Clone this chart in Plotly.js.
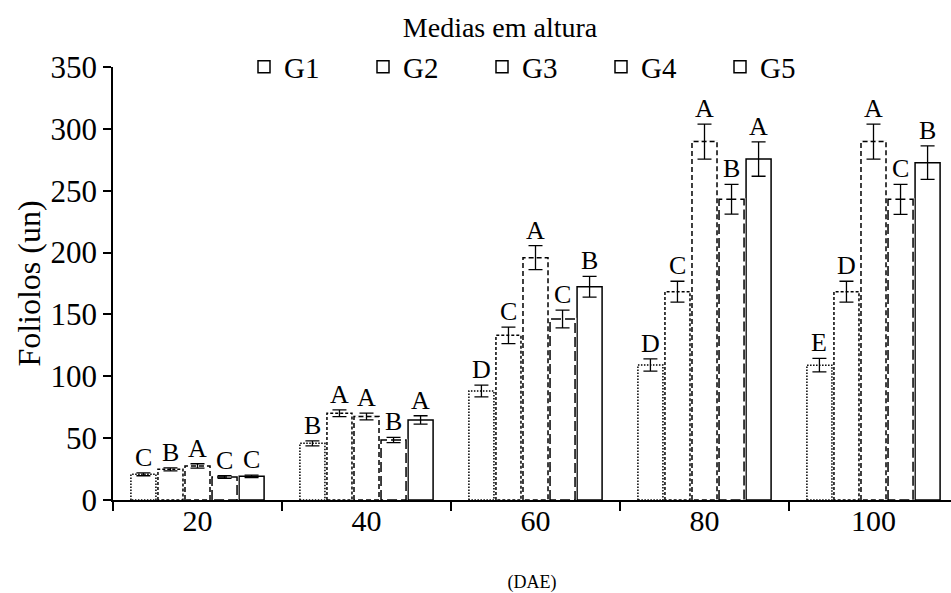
<!DOCTYPE html>
<html>
<head>
<meta charset="utf-8">
<script src="https://cdn.plot.ly/plotly-3.0.1.min.js"></script>
<style>html,body{margin:0;padding:0;background:#fff}#chart{width:951px;height:593px}</style>
</head>
<body>
<div id="chart"></div>
<script>
// ---- data ----
const groups = ['20', '40', '60', '80', '100'];
const seriesNames = ['G1', 'G2', 'G3', 'G4', 'G5'];
const G1 = [20.8, 45.8, 88.1, 109.1, 109.0];
const G2 = [24.8, 70.1, 133.1, 168.4, 168.4];
const G3 = [27.5, 67.5, 195.9, 289.7, 289.7];
const G4 = [18.6, 48.5, 146.3, 243.1, 243.0];
const G5 = [19.1, 64.7, 172.4, 275.6, 272.7];
const E1 = [1.2, 2.0, 4.7, 5.0, 5.4];
const E2 = [1.2, 2.7, 6.7, 8.4, 8.4];
const E3 = [1.8, 2.8, 9.7, 14.1, 14.1];
const E4 = [1.0, 2.2, 7.1, 12.1, 12.1];
const E5 = [1.0, 3.4, 8.4, 13.9, 13.6];
const L1 = ['C', 'B', 'D', 'D', 'E'];
const L2 = ['B', 'A', 'C', 'C', 'D'];
const L3 = ['A', 'A', 'A', 'A', 'A'];
const L4 = ['C', 'B', 'C', 'B', 'C'];
const L5 = ['C', 'A', 'B', 'A', 'B'];

// ---- styling ----
const values = [G1, G2, G3, G4, G5];
const errors = [E1, E2, E3, E4, E5];
const letters = [L1, L2, L3, L4, L5];
const dashes = ['1.5px,1.5px', '3px,2px', '5px,3px', '10px,4px', 'solid'];
const FONT = 'Liberation Serif, Times New Roman, serif';
const slot = 0.16, barW = 0.148, LW = 1.5;

const idx = groups.map((g, i) => i);
const traces = [];
const outlines = [], erasers = [], errs = [], annotations = [];

values.forEach((vals, s) => {
  const off = (s - 2) * slot;
  const xs = idx.map(i => i + off);
  traces.push({
    type: 'bar', name: seriesNames[s], x: xs, y: vals, width: barW,
    marker: {color: 'white', line: {color: 'black', width: LW}},
    hoverinfo: 'y+name', showlegend: true
  });
  if (s < 4) {
    const ox = [], oy = [];
    vals.forEach((v, i) => {
      const x0 = xs[i] - barW / 2, x1 = xs[i] + barW / 2;
      ox.push(x0, x0, x1, x1, x0, null);
      oy.push(0, v, v, 0, 0, null);
    });
    erasers.push({type: 'scatter', mode: 'lines', x: ox, y: oy, showlegend: false, hoverinfo: 'skip',
      line: {color: 'white', width: 2.6}});
    outlines.push({type: 'scatter', mode: 'lines', x: ox, y: oy, showlegend: false, hoverinfo: 'skip',
      line: {color: 'black', width: LW, dash: dashes[s]}});
  }
  errs.push({type: 'scatter', mode: 'markers', x: xs, y: vals, showlegend: false, hoverinfo: 'skip',
    marker: {size: 1, color: 'rgba(0,0,0,0)'},
    error_y: {type: 'data', array: errors[s], visible: true, color: 'black', thickness: 1.3, width: 7}});
  vals.forEach((v, i) => {
    annotations.push({x: xs[i], y: v + errors[s][i], xref: 'x', yref: 'y', text: letters[s][i],
      showarrow: false, xanchor: 'center', yanchor: 'bottom', yshift: -1,
      font: {family: FONT, size: 26, color: 'black'}});
  });
});

const data = traces.concat(erasers, outlines, errs);
data.push({type: 'scatter', mode: 'markers', x: idx, y: idx.map(() => null), xaxis: 'x2',
  showlegend: false, hoverinfo: 'skip'});

const xr = [-0.5, 4.5 - 7 / 169];
const layout = {
  width: 951, height: 593,
  margin: {l: 113, r: 0, t: 67, b: 93},
  paper_bgcolor: 'white', plot_bgcolor: 'white',
  font: {family: FONT, color: 'black', size: 29},
  barmode: 'overlay',
  annotations: annotations,
  title: {text: 'Medias em altura', font: {family: FONT, size: 28, color: 'black'},
    x: 500 / 951, xref: 'container', xanchor: 'center', y: 1 - 27 / 593, yref: 'container', yanchor: 'middle'},
  xaxis: {
    type: 'linear', range: xr, tickvals: [-0.5, 0.5, 1.5, 2.5, 3.5, 4.5],
    showticklabels: false, ticks: 'outside', ticklen: 9, tickwidth: 1.5, tickcolor: 'black',
    showline: true, linecolor: 'black', linewidth: 1.5, showgrid: false, zeroline: false,
    title: {text: '(DAE)', font: {family: FONT, size: 18, color: 'black'}, standoff: 67}
  },
  xaxis2: {
    type: 'linear', range: xr, overlaying: 'x', side: 'bottom', anchor: 'y',
    tickvals: idx, ticktext: groups, ticks: '', showline: false, showgrid: false, zeroline: false,
    tickfont: {family: FONT, size: 30, color: 'black'}
  },
  yaxis: {
    range: [0, 350], tickvals: [0, 50, 100, 150, 200, 250, 300, 350],
    ticks: 'outside', ticklen: 8, tickwidth: 1.5, tickcolor: 'black',
    showline: true, linecolor: 'black', linewidth: 1.5, showgrid: false, zeroline: false,
    tickfont: {family: FONT, size: 31, color: 'black'},
    title: {text: 'Foliolos (un)', font: {family: FONT, size: 32, color: 'black'}, standoff: 0}
  },
  showlegend: true,
  legend: {orientation: 'h', x: (244 - 113) / 838, xanchor: 'left', y: 1, yanchor: 'middle',
    font: {family: FONT, size: 29, color: 'black'}, bgcolor: 'rgba(0,0,0,0)',
    entrywidth: 74, entrywidthmode: 'pixels', itemwidth: 30, tracegroupgap: 0}
};

Plotly.newPlot('chart', data, layout, {displayModeBar: false, responsive: false});
</script>
</body>
</html>
